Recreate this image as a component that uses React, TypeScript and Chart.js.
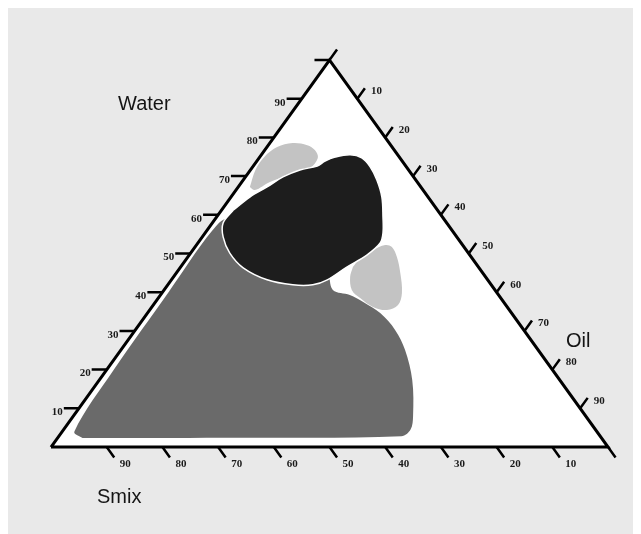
import React, { useEffect, useRef } from "react";
import { Chart, registerables } from "chart.js";

Chart.register(...registerables);

// ---- Axis tick values (percent) ----
const waterTickLabels = [10, 20, 30, 40, 50, 60, 70, 80, 90];
const oilTickLabels = [10, 20, 30, 40, 50, 60, 70, 80, 90];
const smixTickLabels = [90, 80, 70, 60, 50, 40, 30, 20, 10];
const waterTickMarks = [10, 20, 30, 40, 50, 60, 70, 80, 90, 100];
const oilTickMarks = [0, 10, 20, 30, 40, 50, 60, 70, 80, 90];
const smixTickMarks = [0, 10, 20, 30, 40, 50, 60, 70, 80, 90];

// ---- Regions: boundary compositions, Water % and Oil % (Smix = 100 - Water - Oil) ----
const darkRegionWater = [2.3, 4, 20, 40, 56, 59, 50, 45, 40.6, 39.3, 37.5, 34.6, 30.2, 25.1, 17.3, 8, 4.5, 2.8, 2.4];
const darkRegionOil = [4.5, 2.2, 1.3, 1.1, 1.0, 2.5, 18, 27, 30.3, 34, 37.3, 41.8, 46.7, 51, 56.2, 61, 62.3, 61.5, 30];

const lightTopWater = [67.2, 71.6, 74.9, 77.5, 78.55, 78.0, 76.7, 74.7, 72.1, 70.3, 68.5, 66.4];
const lightTopOil = [2.1, 0.9, 0.8, 1.85, 4.1, 7.0, 9.05, 10.55, 10.45, 7.75, 5.05, 3.4];

const blackRegionWater = [61.2, 64.6, 67.2, 69.8, 71.6, 72.6, 73.9, 74.9, 75.5, 74.7, 72.4, 69.0, 64.6, 59.4, 55.3, 52.7, 49.6, 46.5, 43.2, 41.9, 41.9, 43.2, 46.3, 50.1, 54.3, 57.9];
const blackRegionOil = [2.1, 3.4, 5.2, 6.75, 8.9, 11.5, 12.25, 13.55, 15.95, 18.45, 21.1, 24.0, 27.1, 29.9, 31.95, 32.75, 31.9, 29.85, 28.0, 26.05, 22.45, 17.2, 11.35, 7.05, 3.75, 1.95];

const lightRightWater = [46.5, 48.8, 50.9, 52.2, 51.7, 49.1, 45.0, 39.8, 36.7, 35.4, 36.2, 38.5, 40.6, 43.9];
const lightRightOil = [30.95, 31.1, 32.35, 33.9, 35.35, 37.55, 40.2, 43.1, 43.95, 42.6, 39.7, 36.25, 33.7, 31.75];

// ---- helpers ----
const TICK_LEN = 2.7;
type P = { x: number | null; y: number | null };
const toXY = (water: number, oil: number): P => ({ x: oil + water / 2, y: water });
const GAP: P = { x: null, y: null };
const region = (ws: number[], os: number[]): P[] => {
  const pts = ws.map((w, i) => toXY(w, os[i]));
  pts.push(pts[0]);
  return pts;
};

const trianglePts: P[] = [toXY(0, 0), toXY(0, 100), toXY(100, 0), toXY(0, 0)];

const tickPts: P[] = [];
waterTickMarks.forEach((w) => {
  tickPts.push(toXY(w, 0), toXY(w, -TICK_LEN), GAP);
});
oilTickMarks.forEach((o) => {
  tickPts.push(toXY(100 - o, o), toXY(100 - o + TICK_LEN, o), GAP);
});
smixTickMarks.forEach((s) => {
  tickPts.push(toXY(0, 100 - s), toXY(-TICK_LEN, 100 - s + TICK_LEN), GAP);
});

const shapeFillPlugin = {
  id: "shapeFill",
  beforeDraw(chart: any) {
    const { ctx, width, height } = chart;
    ctx.save();
    ctx.fillStyle = "#e9e9e9";
    ctx.fillRect(0, 0, width, height);
    ctx.restore();
  },
  beforeDatasetDraw(chart: any, args: any) {
    const ds = chart.data.datasets[args.index] as any;
    if (!ds.shapeFill) return;
    const line = args.meta.dataset;
    if (!line) return;
    const ctx = chart.ctx;
    ctx.save();
    ctx.beginPath();
    line.path(ctx);
    ctx.closePath();
    ctx.fillStyle = ds.shapeFill;
    ctx.fill();
    ctx.restore();
  },
};

const labelsPlugin = {
  id: "ternaryLabels",
  afterDatasetsDraw(chart: any) {
    const { ctx, scales } = chart;
    const xs = scales.x;
    const ys = scales.y;
    const px = (p: P) => [xs.getPixelForValue(p.x), ys.getPixelForValue(p.y)];
    ctx.save();
    ctx.fillStyle = "#1a1a1a";
    ctx.font = 'bold 11px "Liberation Serif"';
    ctx.textBaseline = "middle";
    ctx.textAlign = "right";
    waterTickLabels.forEach((w) => {
      const [a, b] = px(toXY(w, -TICK_LEN));
      ctx.fillText(String(w), a - 1, b + 4);
    });
    ctx.textAlign = "left";
    oilTickLabels.forEach((o) => {
      const [a, b] = px(toXY(100 - o + TICK_LEN, o));
      ctx.fillText(String(o), a + 6, b + 3);
    });
    ctx.textAlign = "center";
    smixTickLabels.forEach((s) => {
      const [a, b] = px(toXY(-TICK_LEN, 100 - s + TICK_LEN));
      ctx.fillText(String(s), a + 11, b + 7);
    });
    // axis titles
    ctx.font = '20px "Liberation Sans"';
    ctx.fillStyle = "#151515";
    ctx.textAlign = "left";
    ctx.textBaseline = "alphabetic";
    ctx.fillText("Water", 110, 102);
    ctx.fillText("Smix", 89, 495);
    ctx.fillText("Oil", 558, 339);
    ctx.restore();
  },
};

export default function App() {
  const ref = useRef<HTMLCanvasElement | null>(null);
  useEffect(() => {
    if (!ref.current) return;
    const areaStyle = { pointRadius: 0, borderWidth: 0, tension: 0.35 };
    const chart = new Chart(ref.current, {
      type: "line",
      data: {
        datasets: [
          { label: "triangle", data: trianglePts, shapeFill: "#ffffff", borderWidth: 0, pointRadius: 0, order: 10 } as any,
          { label: "region A", data: region(darkRegionWater, darkRegionOil), shapeFill: "#6a6a6a", ...areaStyle, order: 9 } as any,
          { label: "region B", data: region(lightTopWater, lightTopOil), shapeFill: "#c3c3c3", ...areaStyle, order: 8 } as any,
          { label: "region C", data: region(lightRightWater, lightRightOil), shapeFill: "#c3c3c3", ...areaStyle, order: 7 } as any,
          { label: "region D", data: region(blackRegionWater, blackRegionOil), shapeFill: "#1d1d1d", pointRadius: 0, tension: 0.35, borderWidth: 1.5, borderColor: "#ffffff", order: 6 } as any,
          { label: "edges", data: trianglePts, borderColor: "#000000", borderWidth: 3, pointRadius: 0, tension: 0, borderJoinStyle: "miter", order: 2 } as any,
          { label: "ticks", data: tickPts, borderColor: "#000000", borderWidth: 2.5, pointRadius: 0, tension: 0, spanGaps: false, order: 1 } as any,
        ],
      },
      options: {
        animation: false,
        responsive: true,
        maintainAspectRatio: false,
        events: [],
        layout: { padding: 0 },
        plugins: { legend: { display: false }, tooltip: { enabled: false } },
        scales: {
          x: { type: "linear", display: false, min: -7.72, max: 105.92 },
          y: { type: "linear", display: false, min: -22.48, max: 113.44 },
        },
      },
      plugins: [shapeFillPlugin, labelsPlugin],
    });
    return () => chart.destroy();
  }, []);
  return (
    <div style={{ position: "relative", width: 633, height: 526 }}>
      <canvas ref={ref} style={{ display: "block" }} />
    </div>
  );
}
